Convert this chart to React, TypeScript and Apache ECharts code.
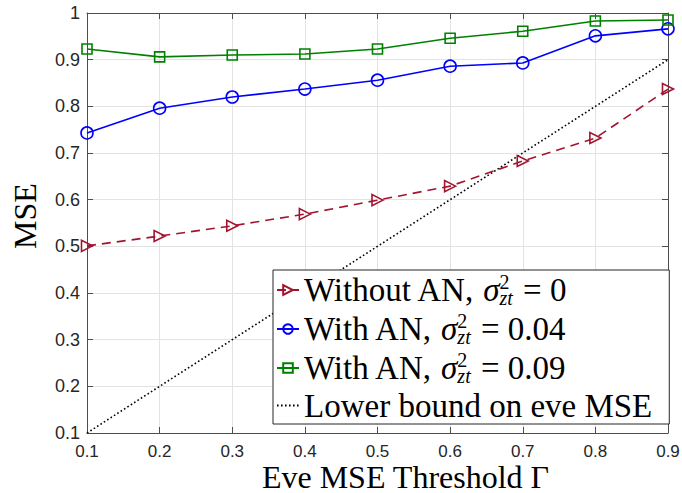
import React, { useEffect, useRef } from "react";
import * as echarts from "echarts";

const thresholds = [0.1, 0.2, 0.3, 0.4, 0.5, 0.6, 0.7, 0.8, 0.9];
const withoutAN = [0.501, 0.522, 0.544, 0.569, 0.599, 0.629, 0.683, 0.732, 0.837];
const withAN004 = [0.743, 0.796, 0.82, 0.837, 0.856, 0.886, 0.893, 0.951, 0.966];
const withAN009 = [0.923, 0.906, 0.91, 0.912, 0.923, 0.946, 0.961, 0.983, 0.985];
const lowerBound = [0.1, 0.2, 0.3, 0.4, 0.5, 0.6, 0.7, 0.8, 0.9];

const seriesNames = ["s0", "s1", "s2", "s3"];
const legendLabels = ["Without AN", "With AN", "With AN", "Lower bound on eve MSE"];
const legendSigma = ["0", "0.04", "0.09", ""];

const SERIF = "'Liberation Serif', 'Times New Roman', serif";
const SANS = "'Liberation Sans', Arial, sans-serif";

export default function App() {
  const ref = useRef<HTMLDivElement>(null);
  useEffect(() => {
    if (!ref.current) return;
    const chart = echarts.init(ref.current, undefined, { renderer: "svg" });
    const pairs = (ys: number[]) => thresholds.map((x, i) => [x, ys[i]]);
    const axisLine = { show: true, lineStyle: { color: "#4d4d4d", width: 1 } };
    const tick = { show: true, inside: true, length: 6, lineStyle: { color: "#4d4d4d" } };
    const fmt = (v: number) => String(Math.round(v * 10) / 10);
    chart.setOption({
      animation: false,
      backgroundColor: "#fff",
      grid: { left: 87, right: 14, top: 13, bottom: 60, containLabel: false, outerBoundsMode: "none" },
      xAxis: [
        {
          type: "value",
          min: 0.1,
          max: 0.9,
          interval: 0.1,
          position: "bottom",
          axisLine,
          axisTick: tick,
          axisLabel: { formatter: fmt, color: "#262626", fontFamily: SANS, fontSize: 17, lineHeight: 16, margin: 10.5 },
          splitLine: { show: true, lineStyle: { color: "#e3e3e3", width: 1 } },
          name: "Eve MSE Threshold Γ",
          nameLocation: "middle",
          nameGap: 30.5,
          nameMoveOverlap: false,
          nameTextStyle: { fontFamily: SERIF, fontSize: 32, lineHeight: 26, color: "#000", padding: [0, 0, 0, 56] },
        },
        {
          type: "value",
          min: 0.1,
          max: 0.9,
          interval: 0.1,
          position: "top",
          axisLine,
          axisTick: tick,
          axisLabel: { show: false },
          splitLine: { show: false },
        },
      ],
      yAxis: [
        {
          type: "value",
          min: 0.1,
          max: 1,
          interval: 0.1,
          position: "left",
          axisLine,
          axisTick: tick,
          axisLabel: { formatter: fmt, color: "#262626", fontFamily: SANS, fontSize: 18, margin: 7 },
          splitLine: { show: true, lineStyle: { color: "#e3e3e3", width: 1 } },
          name: "MSE",
          nameLocation: "middle",
          nameGap: 46,
          nameMoveOverlap: false,
          nameTextStyle: { fontFamily: SERIF, fontSize: 32, color: "#000", padding: [0, 0, 0, 14] },
        },
        {
          type: "value",
          min: 0.1,
          max: 1,
          interval: 0.1,
          position: "right",
          axisLine,
          axisTick: tick,
          axisLabel: { show: false },
          splitLine: { show: false },
        },
      ],
      legend: {
        orient: "vertical",
        left: 273,
        top: 270,
        data: [
          { name: seriesNames[0] },
          { name: seriesNames[1] },
          { name: seriesNames[2] },
          { name: seriesNames[3], itemStyle: { color: "rgba(0,0,0,0)", borderWidth: 0, opacity: 0 } },
        ],
        itemWidth: 22,
        itemHeight: 12,
        itemGap: 3,
        padding: [2, 17, 2, 3],
        backgroundColor: "#fff",
        borderColor: "#262626",
        borderWidth: 1,
        z: 10,
        formatter: (name: string) => {
          const i = seriesNames.indexOf(name);
          if (!legendSigma[i]) return `{n|${legendLabels[i]}}`;
          return `{n|${legendLabels[i]}, }{s|σ}{p|2}{b|zt}{n| = ${legendSigma[i]}}`;
        },
        textStyle: {
          fontFamily: SERIF,
          fontSize: 33,
          color: "#000",
          rich: {
            n: { fontFamily: SERIF, fontSize: 33, lineHeight: 36, color: "#000" },
            s: { fontFamily: SERIF, fontSize: 33, lineHeight: 36, fontStyle: "italic", color: "#000" },
            p: { fontFamily: SERIF, fontSize: 20, lineHeight: 18, verticalAlign: "top", width: 0, color: "#000" },
            b: { fontFamily: SERIF, fontSize: 20, lineHeight: 18, verticalAlign: "bottom", fontStyle: "italic", color: "#000", padding: [0, 2, 0, 0] },
          },
        },
      },
      series: [
        {
          name: seriesNames[0],
          type: "line",
          data: pairs(withoutAN),
          symbol: "triangle",
          symbolRotate: -90,
          symbolSize: 11,
          lineStyle: { color: "#A2142F", width: 1.6, type: [9, 6] },
          itemStyle: { color: "rgba(255,255,255,0)", borderColor: "#A2142F", borderWidth: 1.6 },
          z: 3,
        },
        {
          name: seriesNames[1],
          type: "line",
          data: pairs(withAN004),
          symbol: "circle",
          symbolSize: 12,
          lineStyle: { color: "#0000FF", width: 1.6 },
          itemStyle: { color: "rgba(255,255,255,0)", borderColor: "#0000FF", borderWidth: 1.6 },
          z: 3,
        },
        {
          name: seriesNames[2],
          type: "line",
          data: pairs(withAN009),
          symbol: "rect",
          symbolSize: 10,
          lineStyle: { color: "#008000", width: 1.6 },
          itemStyle: { color: "rgba(255,255,255,0)", borderColor: "#008000", borderWidth: 1.6 },
          z: 3,
        },
        {
          name: seriesNames[3],
          type: "line",
          data: pairs(lowerBound),
          symbol: "none",
          lineStyle: { color: "#000", width: 1.6, type: [1.6, 2.4] },
          itemStyle: { color: "#000" },
          z: 2,
        },
      ],
    });
    return () => chart.dispose();
  }, []);
  return <div ref={ref} style={{ width: 682, height: 493, position: "absolute", left: 0, top: 0, background: "#fff" }} />;
}
